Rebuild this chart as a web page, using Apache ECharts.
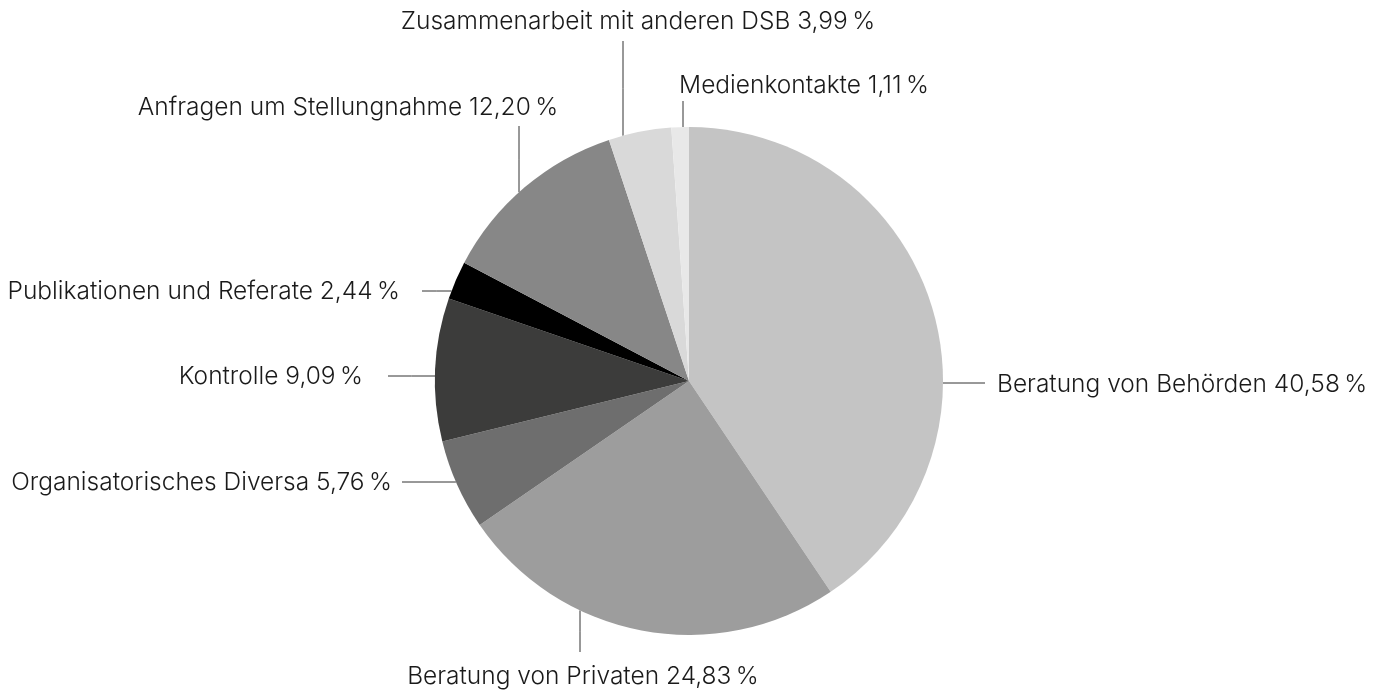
<!DOCTYPE html>
<html>
<head>
<meta charset="utf-8">
<script src="https://cdn.jsdelivr.net/npm/echarts@6/dist/echarts.min.js"></script>
<style>
html,body{margin:0;padding:0;background:#fff;}
#chart{width:1373px;height:691px;}
</style>
</head>
<body>
<div id="chart"></div>
<script>
// ---- data ----
const categories = [
  'Beratung von Behörden',
  'Beratung von Privaten',
  'Organisatorisches Diversa',
  'Kontrolle',
  'Publikationen und Referate',
  'Anfragen um Stellungnahme',
  'Zusammenarbeit mit anderen DSB',
  'Medienkontakte'
];
const values = [40.58, 24.83, 5.76, 9.09, 2.44, 12.20, 3.99, 1.11];
const colors = ['#c4c4c4', '#9d9d9d', '#6e6e6e', '#3c3c3b', '#000000', '#878787', '#d9d9d9', '#e8e8e8'];

// ---- layout (pixels) ----
const CX = 689, CY = 381, R = 254;
// leader-line layout per slice: dir, fixed coordinate, line end, label anchor
const leaders = [
  {dir: 'right', y: 383, end: 985, lx: 997, ly: 385, align: 'left', va: 'middle'},
  {dir: 'down',  x: 580, end: 652, lx: 583, ly: 677, align: 'center', va: 'middle'},
  {dir: 'left',  y: 482, end: 402, lx: 392, ly: 483, align: 'right', va: 'middle'},
  {dir: 'left',  y: 376, end: 388, lx: 363, ly: 377, align: 'right', va: 'middle'},
  {dir: 'left',  y: 291, end: 422, lx: 400, ly: 292, align: 'right', va: 'middle'},
  {dir: 'up',    x: 519, end: 126, lx: 348, ly: 108, align: 'center', va: 'middle'},
  {dir: 'up',    x: 623, end: 41,  lx: 638, ly: 22,  align: 'center', va: 'middle'},
  {dir: 'up',    x: 683, end: 101, lx: 804, ly: 86,  align: 'center', va: 'middle'}
];

function leaderPoints(L) {
  let s, e;
  if (L.dir === 'right' || L.dir === 'left') {
    const dx = Math.sqrt(Math.max(R * R - (L.y - CY) * (L.y - CY), 0));
    const sx = L.dir === 'right' ? CX + dx : CX - dx;
    s = [sx, L.y]; e = [L.end, L.y];
  } else {
    const dy = Math.sqrt(Math.max(R * R - (L.x - CX) * (L.x - CX), 0));
    const sy = L.dir === 'down' ? CY + dy : CY - dy;
    s = [L.x, sy]; e = [L.x, L.end];
  }
  return [s, [(s[0] + e[0]) / 2, (s[1] + e[1]) / 2], e];
}

function fmt(v) {
  return v.toFixed(2).replace('.', ',') + '\u2009%';
}

const chart = echarts.init(document.getElementById('chart'));
chart.setOption({
  animation: false,
  backgroundColor: '#ffffff',
  series: [{
    type: 'pie',
    center: [CX, CY],
    radius: R,
    startAngle: 90,
    clockwise: true,
    avoidLabelOverlap: false,
    data: categories.map((c, i) => ({name: c, value: values[i], itemStyle: {color: colors[i]}})),
    itemStyle: {borderWidth: 0},
    label: {
      show: true,
      formatter: p => p.name + ' ' + fmt(p.value),
      fontFamily: 'Inter, Roboto, sans-serif',
      fontWeight: 300,
      fontSize: 24.5,
      color: '#1a1a1a'
    },
    labelLine: {
      show: true,
      lineStyle: {color: '#333333', width: 1}
    },
    labelLayout: function (params) {
      const L = leaders[params.dataIndex];
      return {
        x: L.lx, y: L.ly, align: L.align, verticalAlign: L.va,
        labelLinePoints: leaderPoints(L),
        hideOverlap: false, moveOverlap: null
      };
    },
    emphasis: {disabled: true}
  }]
});
</script>
</body>
</html>
